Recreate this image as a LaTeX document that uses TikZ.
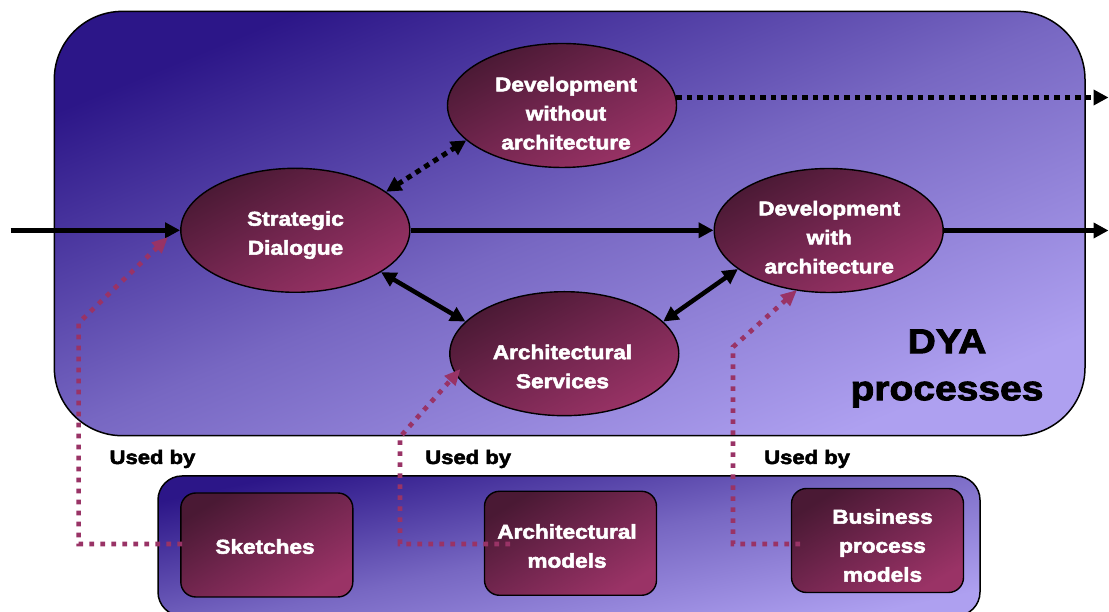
\documentclass[tikz,border=0pt]{standalone}
\usepackage{fontspec}
\setmainfont{Liberation Sans}[FakeStretch=1.13, BoldFeatures={FakeBold=2.6}]
\usetikzlibrary{arrows.meta,shapes.geometric,calc}
\definecolor{bgdark}{HTML}{2C1688}
\definecolor{bgmid}{HTML}{7767C2}
\definecolor{bglight}{HTML}{AEA0F0}
\definecolor{eldark}{HTML}{4A1934}
\definecolor{elmid}{HTML}{73264F}
\definecolor{ellight}{HTML}{9A3366}
\definecolor{pinkline}{HTML}{993366}
\begin{document}
\begin{tikzpicture}[x=1pt,y=1pt,
  container/.style={rectangle, draw=black, line width=1.5pt, inner sep=0pt,
    top color=bgdark, bottom color=bglight, middle color=bgmid},
  procell/.style={ellipse, draw=black, line width=1.4pt, inner sep=0pt,
    minimum width=229pt, minimum height=124pt,
    top color=eldark, bottom color=ellight, middle color=elmid, shading angle=28.4},
  modelbox/.style={rectangle, rounded corners=15pt, draw=black, line width=1.4pt, inner sep=0pt,
    minimum width=172pt, minimum height=104pt,
    top color=eldark, bottom color=ellight, middle color=elmid, shading angle=31.2},
  intext/.style={text=white, font=\bfseries\fontsize{20}{29}\selectfont, align=center,
    inner sep=0pt, anchor=north},
  usedby/.style={text=black, font=\bfseries\fontsize{19.5}{24}\selectfont, inner sep=0pt, anchor=base},
  solidarrow/.style={draw=black, line width=4.5pt, -{Triangle[length=15pt,width=15pt]}},
  solidboth/.style={draw=black, line width=4.5pt, {Triangle[length=15pt,width=15pt]}-{Triangle[length=15pt,width=15pt]}},
  dotarrow/.style={draw=black, line width=5pt, dash pattern=on 5.5pt off 5pt, -{Triangle[length=15pt,width=15pt]}},
  dotboth/.style={draw=black, line width=5pt, dash pattern=on 5.5pt off 5pt, {Triangle[length=15pt,width=15pt]}-{Triangle[length=15pt,width=15pt]}},
  pinkdot/.style={draw=pinkline, line width=4.7pt, dash pattern=on 4.7pt off 6.3pt, -{Triangle[length=16pt,width=14pt]}}
]
\useasboundingbox (0,0) rectangle (1109,612);

% containers
\node[container, rounded corners=68pt, minimum width=1030.7pt, minimum height=424.3pt, shading angle=22.4] (dya) at (569.65,388.45) {};
\node[container, rounded corners=24pt, minimum width=822pt, minimum height=140pt, shading angle=12] (models) at (569,66) {};

% process ellipses
\node[procell] (sd) at (295.3,381.7) {};
\node[procell] (dwoa) at (562,506.5) {};
\node[procell] (dwa) at (828.7,381.5) {};
\node[procell] (as) at (564.3,258.3) {};

% model boxes
\node[modelbox] (sk) at (266.8,67) {};
\node[modelbox] (am) at (570.5,68.7) {};
\node[modelbox] (bp) at (877.5,71.5) {};

% texts
\node[intext] (sdt) at (295.5,401) {Strategic\\Dialogue};
\node[intext] (dwoat) at (566,535.3) {Development\\without\\architecture};
\node[intext] (dwat) at (829.2,411.3) {Development\\with\\architecture};
\node[intext] (ast) at (562.5,267.5) {Architectural\\Services};
\node[intext] (skt) at (265,73) {Sketches};
\node[intext] (amt) at (567,88) {Architectural\\models};
\node[intext] (bpt) at (882.5,103) {Business\\process\\models};
\node[text=black, font=\bfseries\fontsize{34.5}{47}\selectfont, align=center, inner sep=0pt, anchor=north] (dyat) at (947,282.7) {DYA\\processes};
\node[usedby] (u1) at (152.5,148) {Used by};
\node[usedby] (u2) at (468.2,148) {Used by};
\node[usedby] (u3) at (807.1,148) {Used by};

% black connectors
\coordinate (inL) at (10.7,381.7);
\coordinate (outR) at (1108.5,381.5);
\coordinate (outD) at (1108.5,514.5);
\draw[solidarrow] (inL) -- (sd.west);
\draw[solidarrow] (sd.east) -- (sd.east -| dwa.west);
\draw[solidarrow] (dwa.east) -- (outR);
\draw[dotarrow] (dwoa.4) -- (dwoa.4 -| outD);
\draw[dotboth] (sd.23.4) -- (dwoa.200.6);
\draw[solidboth] (sd.334.8) -- (as.162.5);
\draw[solidboth] (as.18.8) -- (dwa.203.3);

% pink "used by" connectors
\coordinate (a0) at (182,68);
\coordinate (a2) at (78.6,289);
\coordinate (a3) at (168,375);
\coordinate (b0) at (510,68);
\coordinate (b2) at (400,175);
\coordinate (b3) at (460.5,243);
\coordinate (c0) at (800,68);
\coordinate (c2) at (733,265);
\coordinate (c3) at (797,322);
\draw[pinkdot] (a0) -| (a2) -- (a3);
\draw[pinkdot] (b0) -| (b2) -- (b3);
\draw[pinkdot] (c0) -| (c2) -- (c3);
\end{tikzpicture}
\end{document}
